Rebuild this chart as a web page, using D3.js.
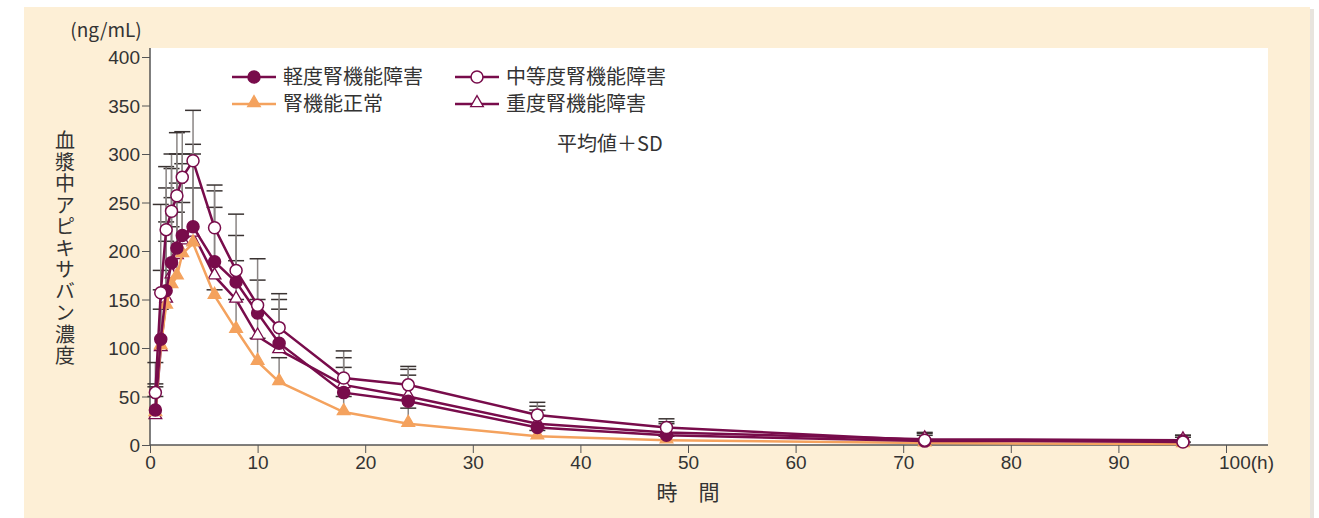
<!DOCTYPE html>
<html lang="ja">
<head>
<meta charset="UTF-8">
<title>血漿中アピキサバン濃度</title>
<script src="https://d3js.org/d3.v7.min.js"></script>
<style>
  body { margin: 0; background: #ffffff; font-family: "Noto Sans CJK JP", "Noto Sans", sans-serif; }
  svg text { fill: #333333; }
  .axis text { font-size: 19px; }
  .axis line { stroke: #555555; }
  .axis path { display: none; }
</style>
</head>
<body>
<svg id="chart" width="1319" height="518"></svg>
<script>
  // sampling times (h)
  const times = [0.5, 1, 1.5, 2, 2.5, 3, 4, 6, 8, 10, 12, 18, 24, 36, 48, 72, 96];

  // mean concentration (ng/mL)
  const mildMean     = [36, 109, 159, 188, 203, 216, 225, 189, 168, 136, 105, 54, 45, 18, 10, 4, 4];
  const moderateMean = [54, 157, 222, 241, 257, 276, 293, 224, 180, 144, 121, 69, 62, 31, 18, 5, 3];
  const normalMean   = [33, 102, 144, 165, 174, 197, 208, 154, 119, 86, 65, 34, 22, 9, 5, 2, 1];
  const severeMean   = [30, 100, 150, 175, 195, 210, 218, 174, 150, 112, 98, 62, 50, 22, 13, 6, 5];

  // mean + SD (ng/mL)
  const mildTop     = [63, 180, 265, 285, 300, 300, 310, 262, 216, 170, 150, 90, 78, 40, 24, 12, 10];
  const moderateTop = [85, 248, 287, 300, 322, 323, 345, 268, 238, 192, 156, 97, 81, 44, 27, 13, 10];
  const normalTop   = [50, 140, 210, 225, 240, 250, 265, 160, 150, 110, 90, 50, 38, 15, 9, 4, 3];
  const severeTop   = [60, 160, 230, 255, 270, 290, 300, 245, 190, 150, 140, 80, 72, 36, 22, 10, 8];

  const yTicks = [0, 50, 100, 150, 200, 250, 300, 350, 400];
  const xTicks = [0, 10, 20, 30, 40, 50, 60, 70, 80, 90, 100];

  const purple = "#780c4b";
  const orange = "#f4a25e";

  const series = [
    {name: "重度腎機能障害", mean: severeMean, top: severeTop, color: purple, shape: "tri", fill: "#ffffff"},
    {name: "腎機能正常", mean: normalMean, top: normalTop, color: orange, shape: "tri", fill: orange},
    {name: "軽度腎機能障害", mean: mildMean, top: mildTop, color: purple, shape: "circle", fill: purple},
    {name: "中等度腎機能障害", mean: moderateMean, top: moderateTop, color: purple, shape: "circle", fill: "#ffffff"}
  ];

  const svg = d3.select("#chart");

  // panel background
  svg.append("rect").attr("x", 28).attr("y", 9).attr("width", 1286).attr("height", 509)
    .attr("fill", "#d8d2c8").attr("opacity", 0.6);
  svg.append("rect").attr("x", 24).attr("y", 7).attr("width", 1286).attr("height", 511)
    .attr("fill", "#fdefd6");

  const left = 150, bottom = 445, plotTop = 48, plotRight = 1268;
  const x = d3.scaleLinear().domain([0, 100]).range([left, 1226]);
  const y = d3.scaleLinear().domain([0, 400]).range([bottom, 57]);

  svg.append("rect").attr("x", left).attr("y", plotTop)
    .attr("width", plotRight - left).attr("height", bottom - plotTop).attr("fill", "#ffffff");

  // axes
  svg.append("g").attr("class", "axis")
    .attr("transform", `translate(${left},0)`)
    .call(d3.axisLeft(y).tickValues(yTicks).tickSize(8).tickPadding(2))
    .selectAll("text").attr("dy", "0.35em");
  svg.append("g").attr("class", "axis")
    .attr("transform", `translate(0,${bottom})`)
    .call(d3.axisBottom(x).tickValues(xTicks).tickSize(8).tickPadding(3)
      .tickFormat(d => d === 100 ? "100(h)" : d))
    .selectAll("text").attr("dx", d => d === 100 ? "20" : 0);

  svg.append("line").attr("x1", left).attr("x2", left).attr("y1", plotTop).attr("y2", bottom)
    .attr("stroke", "#555").attr("stroke-width", 1.5);
  svg.append("line").attr("x1", left).attr("x2", plotRight).attr("y1", bottom).attr("y2", bottom)
    .attr("stroke", "#555").attr("stroke-width", 1.5);

  // error bars (mean + SD)
  series.forEach(s => {
    const g = svg.append("g");
    times.forEach((t, i) => {
      g.append("line").attr("x1", x(t)).attr("x2", x(t))
        .attr("y1", y(s.mean[i])).attr("y2", y(s.top[i]))
        .attr("stroke", "#8a8584").attr("stroke-width", 1.5);
      g.append("line").attr("x1", x(t) - 8).attr("x2", x(t) + 8)
        .attr("y1", y(s.top[i])).attr("y2", y(s.top[i]))
        .attr("stroke", "#3a3332").attr("stroke-width", 1.5);
    });
  });

  const line = d3.line().x(d => x(d[0])).y(d => y(d[1]));
  const triSym = d3.symbol().type(d3.symbolTriangle).size(70);

  function drawMarker(g, s, cx, cy) {
    if (s.shape === "circle") {
      g.append("circle").attr("cx", cx).attr("cy", cy).attr("r", 6)
        .attr("fill", s.fill).attr("stroke", s.color).attr("stroke-width", 1.5);
    } else {
      g.append("path").attr("d", triSym()).attr("transform", `translate(${cx},${cy - 1})`)
        .attr("fill", s.fill).attr("stroke", s.color).attr("stroke-width", 1.3);
    }
  }

  series.forEach(s => {
    const g = svg.append("g");
    g.append("path").datum(times.map((t, i) => [t, s.mean[i]]))
      .attr("d", line).attr("fill", "none").attr("stroke", s.color).attr("stroke-width", 2.5);
    times.forEach((t, i) => drawMarker(g, s, x(t), y(s.mean[i])));
  });

  // legend
  const legendItems = [
    {s: series[2], lx: 232, ly: 77},
    {s: series[1], lx: 232, ly: 104},
    {s: series[3], lx: 455, ly: 77},
    {s: series[0], lx: 455, ly: 104}
  ];
  legendItems.forEach(d => {
    const g = svg.append("g");
    g.append("line").attr("x1", d.lx).attr("x2", d.lx + 44).attr("y1", d.ly).attr("y2", d.ly)
      .attr("stroke", d.s.color).attr("stroke-width", 2.5);
    drawMarker(g, d.s, d.lx + 22, d.ly);
    g.append("text").attr("x", d.lx + 51).attr("y", d.ly).attr("dy", "0.35em")
      .style("font-size", "20px").text(d.s.name);
  });
  svg.append("text").attr("x", 557).attr("y", 144).attr("dy", "0.35em")
    .style("font-size", "20px").text("平均値＋SD");

  // axis titles
  svg.append("text").attr("x", 106).attr("y", 30).attr("dy", "0.35em")
    .attr("text-anchor", "middle").style("font-size", "19px").text("(ng/mL)");
  svg.append("text").attr("x", 65).attr("y", 249)
    .attr("text-anchor", "middle")
    .style("writing-mode", "vertical-rl").style("text-orientation", "upright")
    .style("font-size", "20px").style("letter-spacing", "1.5px")
    .text("血漿中アピキサバン濃度");
  svg.append("text").attr("x", 688).attr("y", 493).attr("dy", "0.35em")
    .attr("text-anchor", "middle").style("font-size", "21px").text("時　間");
</script>
</body>
</html>
